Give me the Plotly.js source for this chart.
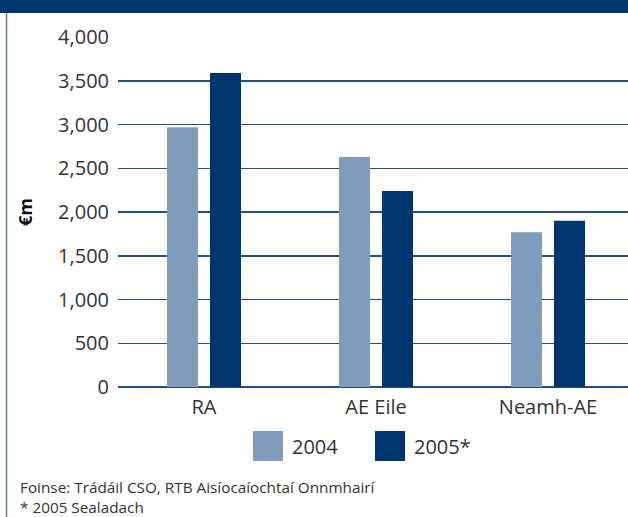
<!DOCTYPE html>
<html>
<head>
<meta charset="utf-8">
<script src="https://cdn.plot.ly/plotly-3.0.1.min.js"></script>
<style>html,body{margin:0;padding:0;background:#fff;}#chart{width:628px;height:517px;}</style>
</head>
<body>
<div id="chart"></div>
<script>
const categories = ["RA", "AE Eile", "Neamh-AE"];
const seriesNames = ["2004", "2005*"];
const values2004 = [2970, 2630, 1770];
const values2005 = [3590, 2240, 1900];
const yTickVals = [0, 500, 1000, 1500, 2000, 2500, 3000, 3500, 4000];
const yTickText = ["0", "500", "1,000", "1,500", "2,000", "2,500", "3,000", "3,500", "4,000"];
const yTitle = "€m";
const footnotes = ["Foinse: Trádáil CSO, RTB Aisíocaíochtaí Onnmhairí", "* 2005 Sealadach"];

const c2004 = "#7f9cba";
const c2005 = "#00366f";
const font = "'Open Sans', 'Noto Sans', sans-serif";

const W = 628, H = 517, L = 118, R = 628, T = 37, B = 387;
const px = x => (x - L) / (R - L);
const py = y => (B - y) / (B - T);

const traces = [
  {type: "bar", name: seriesNames[0], x: categories, y: values2004, marker: {color: c2004}, showlegend: false, hoverinfo: "x+y"},
  {type: "bar", name: seriesNames[1], x: categories, y: values2005, marker: {color: c2005}, showlegend: false, hoverinfo: "x+y"}
];

const shapes = [
  {type: "rect", xref: "paper", yref: "paper", x0: px(0), x1: px(W), y0: py(0), y1: py(13), fillcolor: "#003670", line: {width: 0}, layer: "above"},
  {type: "line", xref: "paper", yref: "paper", x0: px(6.5), x1: px(6.5), y0: py(13), y1: py(H), line: {color: "#5b7bab", width: 1.5}},
  {type: "rect", xref: "paper", yref: "paper", x0: px(253), x1: px(283), y0: py(431), y1: py(461), fillcolor: c2004, line: {width: 0}},
  {type: "rect", xref: "paper", yref: "paper", x0: px(375), x1: px(405), y0: py(431), y1: py(461), fillcolor: c2005, line: {width: 0}}
];

const annotations = [
  {xref: "paper", yref: "paper", x: px(290), y: py(446), xanchor: "left", yanchor: "middle", text: seriesNames[0], showarrow: false, font: {family: font, size: 20, color: "#333333"}},
  {xref: "paper", yref: "paper", x: px(412), y: py(446), xanchor: "left", yanchor: "middle", text: seriesNames[1], showarrow: false, font: {family: font, size: 20, color: "#333333"}},
  {xref: "paper", yref: "paper", x: px(18), y: py(497), xanchor: "left", yanchor: "middle", align: "left", text: footnotes.join("<br>"), showarrow: false, font: {family: font, size: 15.3, color: "#333333"}}
];

const layout = {
  width: W, height: H,
  margin: {l: L, r: W - R, t: T, b: H - B, pad: 0},
  paper_bgcolor: "#ffffff", plot_bgcolor: "#ffffff",
  barmode: "group", bargap: 0.5, bargroupgap: 0.279,
  showlegend: false,
  font: {family: font, color: "#333333"},
  xaxis: {
    type: "category", range: [-0.5, 2.465], showgrid: false, showline: false, zeroline: false, ticks: "",
    tickfont: {family: font, size: 20, color: "#333333"}, ticklabelstandoff: 6
  },
  yaxis: {
    range: [0, 4000], tickvals: yTickVals, ticktext: yTickText,
    showgrid: true, gridcolor: "#1f4f8c", gridwidth: 1.5,
    zeroline: true, zerolinecolor: "#1f4f8c", zerolinewidth: 1.5,
    showline: false, ticks: "", ticklabelstandoff: 8,
    tickfont: {family: font, size: 20, color: "#333333"},
    title: {text: yTitle, standoff: 20, font: {family: font, size: 18, color: "#111111", weight: "bold"}}
  },
  shapes: shapes,
  annotations: annotations
};

Plotly.newPlot("chart", traces, layout, {displayModeBar: false, staticPlot: true});
</script>
</body>
</html>
